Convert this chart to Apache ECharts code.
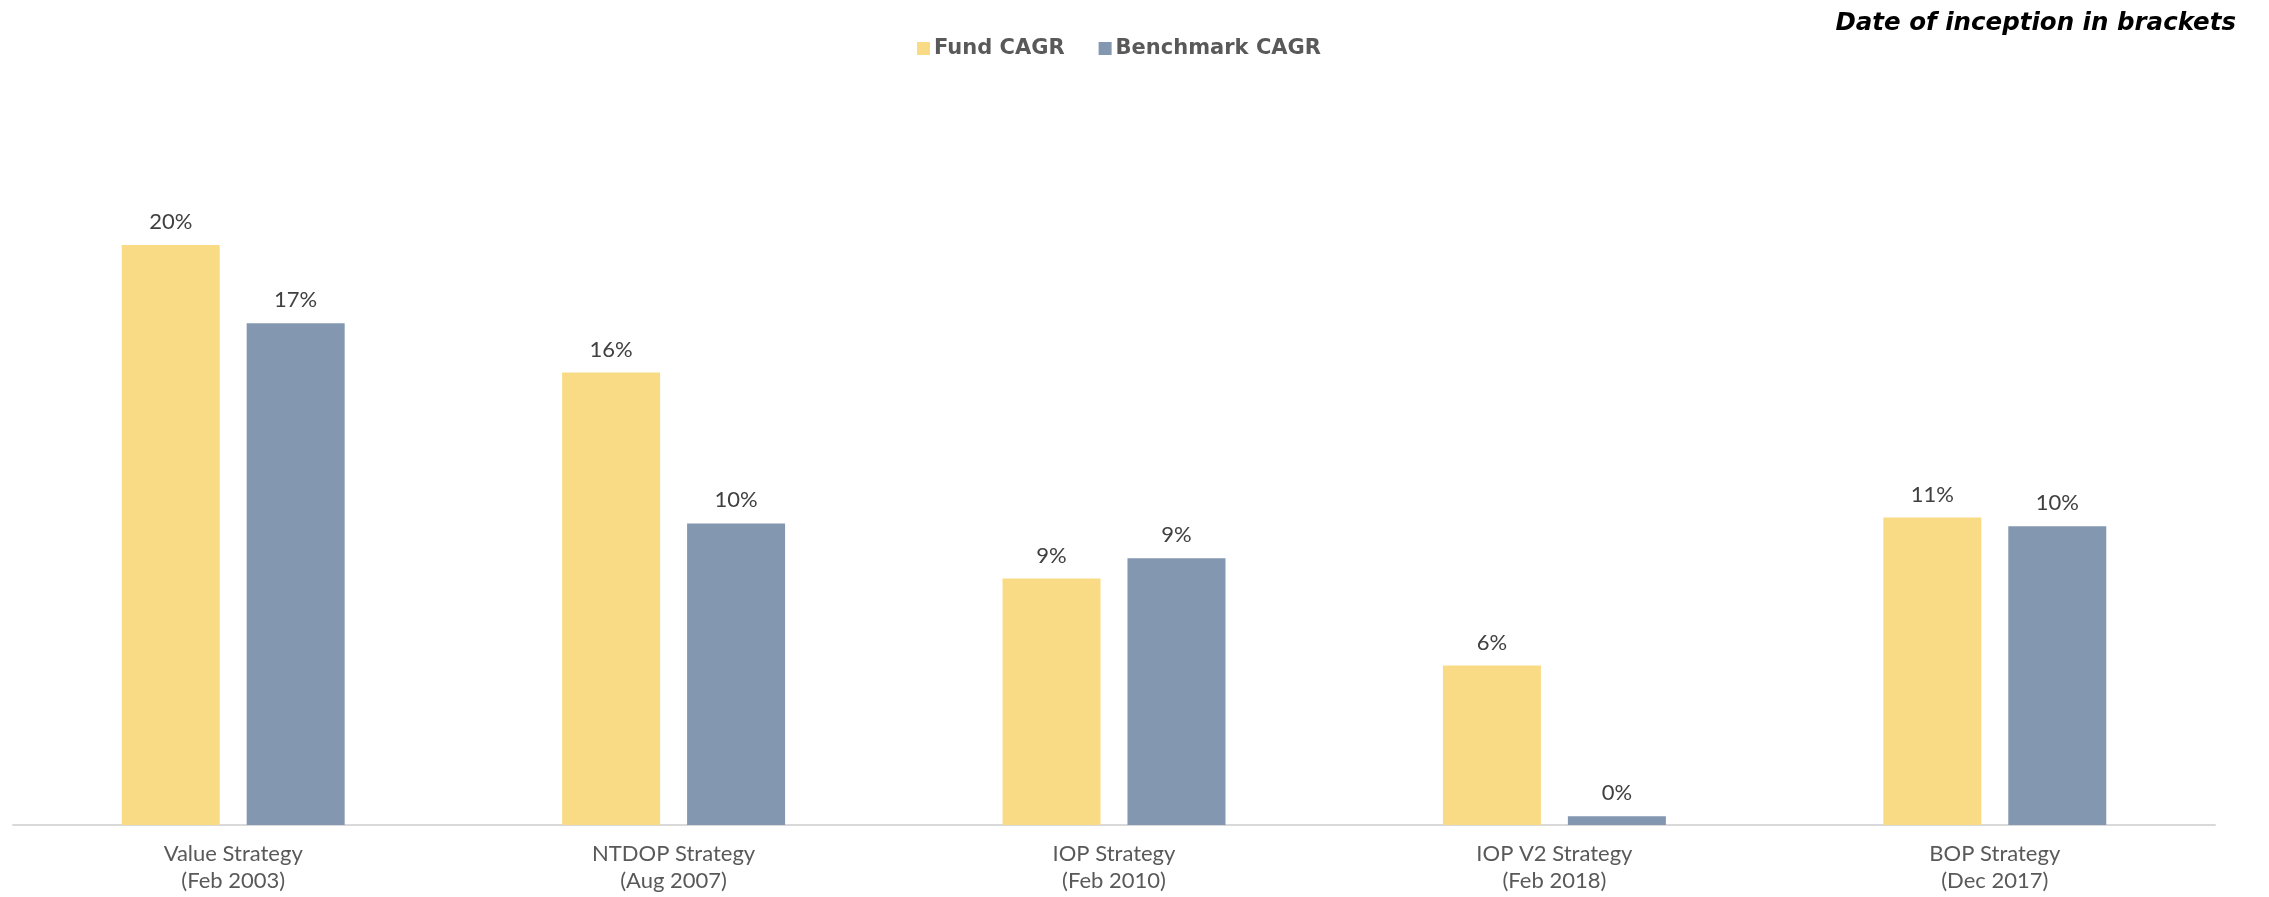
<!DOCTYPE html>
<html>
<head>
<meta charset="utf-8">
<script src="https://cdn.jsdelivr.net/npm/echarts@6/dist/echarts.min.js"></script>
<style>
html,body{margin:0;padding:0;background:#fff;}
#chart{width:2269px;height:897px;}
</style>
</head>
<body>
<div id="chart"></div>
<script>
const categories = [
  'Value Strategy\n(Feb 2003)',
  'NTDOP Strategy\n(Aug 2007)',
  'IOP Strategy\n(Feb 2010)',
  'IOP V2 Strategy\n(Feb 2018)',
  'BOP Strategy\n(Dec 2017)'
];
const fundCAGR = [20.0, 15.6, 8.5, 5.5, 10.6];
const benchmarkCAGR = [17.3, 10.4, 9.2, 0.3, 10.3];
const seriesNames = ['Fund CAGR', 'Benchmark CAGR'];
const noteText = 'Date of inception in brackets';

const FONT = 'Lato, "Open Sans", sans-serif';
const chart = echarts.init(document.getElementById('chart'), null, {renderer: 'canvas'});
const labelCfg = {
  show: true,
  position: 'top',
  distance: 12,
  fontFamily: FONT,
  fontSize: 22,
  color: '#404040',
  formatter: p => Math.round(p.value) + '%'
};
chart.setOption({
  backgroundColor: '#ffffff',
  animation: false,
  title: {
    text: noteText,
    right: 28,
    top: 6,
    textStyle: {fontFamily: '"DejaVu Sans", sans-serif', fontSize: 24.5, fontWeight: 'bold', fontStyle: 'italic', color: '#000000'}
  },
  legend: {
    left: 912,
    top: 33,
    icon: 'rect',
    itemWidth: 13,
    itemHeight: 13,
    itemGap: 34,
    textStyle: {fontFamily: '"DejaVu Sans", sans-serif', fontSize: 21, fontWeight: 'bold', color: '#595959', padding: [0,0,0,-1]},
    data: seriesNames
  },
  grid: {left: 13, right: 54, top: 100, bottom: 72, containLabel: false},
  xAxis: {
    type: 'category',
    data: categories,
    axisLine: {show: true, lineStyle: {color: '#d9d9d9', width: 2}},
    axisTick: {show: false},
    axisLabel: {fontFamily: FONT, fontSize: 22, color: '#595959', lineHeight: 27, margin: 15, interval: 0}
  },
  yAxis: {
    type: 'value',
    min: 0,
    max: 25,
    interval: 5,
    show: false,
    splitLine: {show: false}
  },
  series: [
    {
      name: seriesNames[0],
      type: 'bar',
      data: fundCAGR,
      barWidth: 98,
      barGap: '27.5%',
      itemStyle: {color: '#FADB85'},
      label: labelCfg
    },
    {
      name: seriesNames[1],
      type: 'bar',
      data: benchmarkCAGR,
      barWidth: 98,
      barGap: '27.5%',
      itemStyle: {color: '#8497B0'},
      label: labelCfg
    }
  ]
});
</script>
</body>
</html>
